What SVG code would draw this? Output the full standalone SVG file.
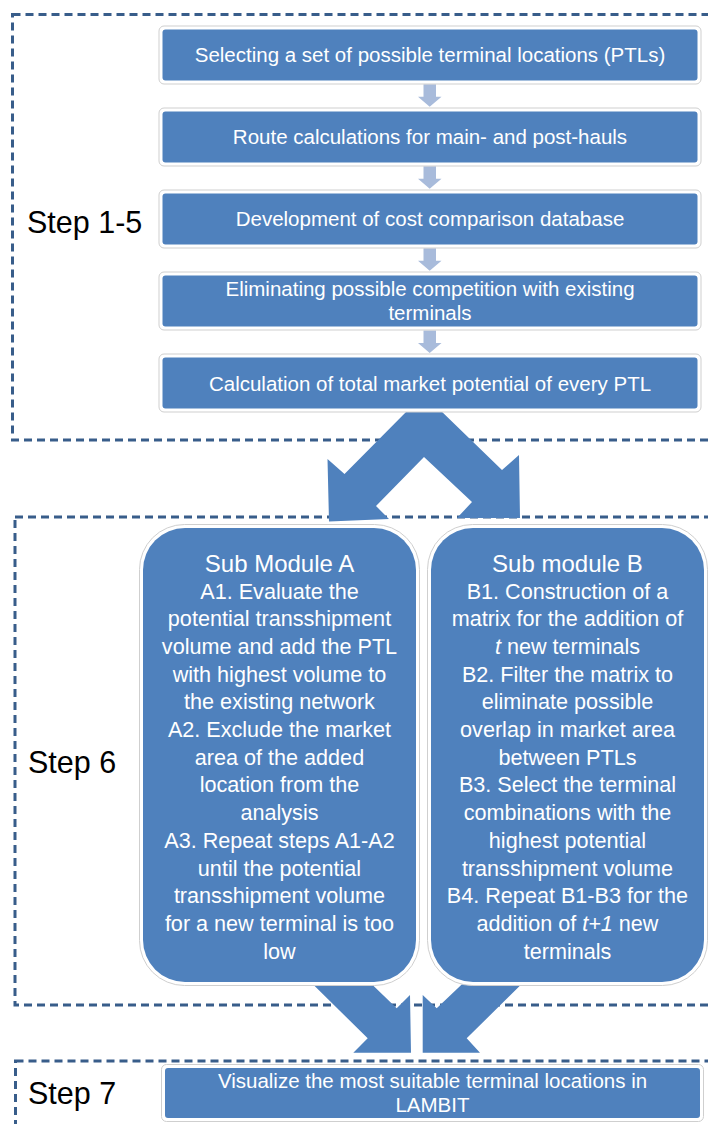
<svg xmlns="http://www.w3.org/2000/svg" width="708" height="1124" viewBox="0 0 708 1124">
<style>
.dash{fill:none;stroke:#385D8A;stroke-width:3;stroke-dasharray:8 5}
.halo{fill:#fff;stroke:#CFCFCF;stroke-width:1}
.box{fill:#4F81BD}
.t{font-family:"Liberation Sans",Arial,sans-serif;fill:#fff;text-anchor:middle}
.tb{font-size:20.5px}
.ts{font-size:21.6px}
.th{font-size:24px}
.step{font-family:"Liberation Sans",Arial,sans-serif;font-size:30.5px;fill:#000}
.big{fill:#4F81BD}
.small{fill:#A8BBDB}
</style>
<defs>
<path id="sa" d="M423.5,0 H436 V12.5 H441.5 L429.7,22.5 L418,12.5 H423.5 Z"/>
</defs>
<g id="frames">
<rect class="dash" x="12.5" y="14.5" width="720" height="425.5"/>
<rect class="dash" x="15" y="517" width="720" height="488"/>
<rect class="dash" x="15.5" y="1061" width="720" height="100"/>
</g>
<g id="connectors">
<use href="#sa" class="small" y="84.3"/>
<use href="#sa" class="small" y="166.3"/>
<use href="#sa" class="small" y="248.3"/>
<use href="#sa" class="small" y="330.5"/>
<path class="big" d="M410,408 H438 L502,470 L519,455 L520,518 H457 L472,502 L424,457 L376,506 L389,519 L329,521.5 L327.5,459 L344.5,474 Z"/>
<path class="big" d="M288.3,960 H346.7 L396.7,1008.3 L410,995 L411,1052.7 H353.3 L367.7,1038.3 Z"/>
<path class="big" d="M546,960 H487.5 L436.7,1008.3 L422.7,995 V1052.7 H480 L466.7,1038.3 Z"/>
</g>
<g id="n1">
<rect class="halo" x="159" y="26" width="542" height="58" rx="5"/>
<rect class="box" x="162.5" y="29.5" width="535" height="51" rx="3"/>
<text class="t tb" x="430" y="62">Selecting a set of possible terminal locations (PTLs)</text>
</g>
<g id="n2">
<rect class="halo" x="159" y="108" width="542" height="58" rx="5"/>
<rect class="box" x="162.5" y="111.5" width="535" height="51" rx="3"/>
<text class="t tb" x="430" y="144">Route calculations for main- and post-hauls</text>
</g>
<g id="n3">
<rect class="halo" x="159" y="190" width="542" height="58" rx="5"/>
<rect class="box" x="162.5" y="193.5" width="535" height="51" rx="3"/>
<text class="t tb" x="430" y="226">Development of cost comparison database</text>
</g>
<g id="n4">
<rect class="halo" x="159" y="272" width="542" height="58" rx="5"/>
<rect class="box" x="162.5" y="275.5" width="535" height="51" rx="3"/>
<text class="t tb" x="430" y="295.5">Eliminating possible competition with existing</text>
<text class="t tb" x="430" y="320">terminals</text>
</g>
<g id="n5">
<rect class="halo" x="159" y="354" width="542" height="58" rx="5"/>
<rect class="box" x="162.5" y="357.5" width="535" height="51" rx="3"/>
<text class="t tb" x="430" y="390.5">Calculation of total market potential of every PTL</text>
</g>
<g id="step15"><text class="step" x="27" y="233">Step 1-5</text></g>
<g id="step6"><text class="step" x="28" y="773">Step 6</text></g>
<g id="step7"><text class="step" x="28" y="1104">Step 7</text></g>
<g id="subA">
<rect class="halo" x="139.5" y="524.5" width="280" height="461" rx="45"/>
<rect class="box" x="143" y="528" width="273" height="454" rx="42"/>
<text class="t th" x="279.5" y="571.5">Sub Module A</text>
<text class="t ts" x="279.5" y="598.5">A1. Evaluate the</text>
<text class="t ts" x="279.5" y="626.2">potential transshipment</text>
<text class="t ts" x="279.5" y="653.9">volume and add the PTL</text>
<text class="t ts" x="279.5" y="681.6">with highest volume to</text>
<text class="t ts" x="279.5" y="709.3">the existing network</text>
<text class="t ts" x="279.5" y="737">A2. Exclude the market</text>
<text class="t ts" x="279.5" y="764.7">area of the added</text>
<text class="t ts" x="279.5" y="792.4">location from the</text>
<text class="t ts" x="279.5" y="820.1">analysis</text>
<text class="t ts" x="279.5" y="847.8">A3. Repeat steps A1-A2</text>
<text class="t ts" x="279.5" y="875.5">until the potential</text>
<text class="t ts" x="279.5" y="903.2">transshipment volume</text>
<text class="t ts" x="279.5" y="930.9">for a new terminal is too</text>
<text class="t ts" x="279.5" y="958.6">low</text>
</g>
<g id="subB">
<rect class="halo" x="427.5" y="524.5" width="280" height="461" rx="45"/>
<rect class="box" x="431" y="528" width="273" height="454" rx="42"/>
<text class="t th" x="567.5" y="571.5">Sub module B</text>
<text class="t ts" x="567.5" y="598.5">B1. Construction of a</text>
<text class="t ts" x="567.5" y="626.2">matrix for the addition of</text>
<text class="t ts" x="567.5" y="653.9"><tspan font-style="italic">t</tspan> new terminals</text>
<text class="t ts" x="567.5" y="681.6">B2. Filter the matrix to</text>
<text class="t ts" x="567.5" y="709.3">eliminate possible</text>
<text class="t ts" x="567.5" y="737">overlap in market area</text>
<text class="t ts" x="567.5" y="764.7">between PTLs</text>
<text class="t ts" x="567.5" y="792.4">B3. Select the terminal</text>
<text class="t ts" x="567.5" y="820.1">combinations with the</text>
<text class="t ts" x="567.5" y="847.8">highest potential</text>
<text class="t ts" x="567.5" y="875.5">transshipment volume</text>
<text class="t ts" x="567.5" y="903.2">B4. Repeat B1-B3 for the</text>
<text class="t ts" x="567.5" y="930.9">addition of <tspan font-style="italic">t+1</tspan> new</text>
<text class="t ts" x="567.5" y="958.6">terminals</text>
</g>
<g id="n7">
<rect class="halo" x="161.5" y="1064.5" width="542" height="57" rx="5"/>
<rect class="box" x="165" y="1068" width="535" height="50" rx="3"/>
<text class="t tb" x="432.5" y="1087.5">Visualize the most suitable terminal locations in</text>
<text class="t tb" x="432.5" y="1112">LAMBIT</text>
</g>
</svg>
